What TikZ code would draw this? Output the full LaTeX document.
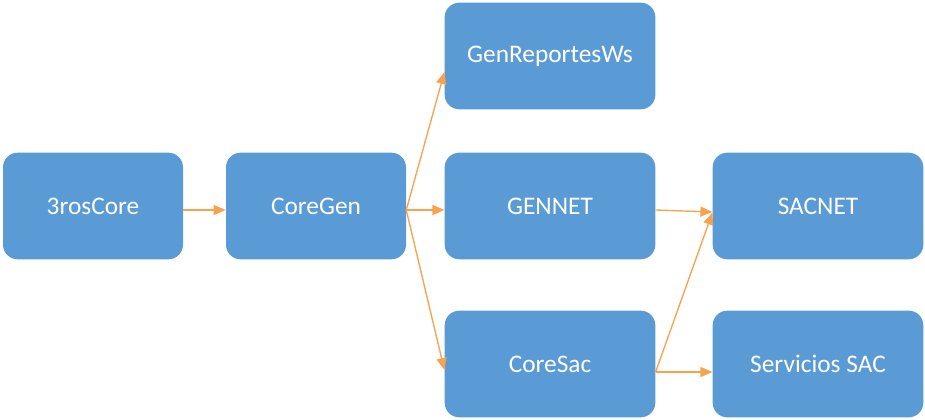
\documentclass[tikz,border=0pt]{standalone}
\usepackage{fontspec}
\setmainfont{Carlito}
\usetikzlibrary{arrows.meta}
\definecolor{boxblue}{HTML}{5B9BD5}
\definecolor{linkorange}{HTML}{F7A24F}

\begin{document}
\begin{tikzpicture}[x=0.75pt,y=0.75pt,yscale=-1,xscale=1,
    proj/.style={fill=boxblue, draw=none, rounded corners=11pt, minimum height=80pt, text=white, font=\fontsize{19}{21}\selectfont},
    small/.style={proj, minimum width=135pt},
    wide/.style={proj, minimum width=158pt},
    link/.style={draw=linkorange, line width=1pt, -{Triangle[length=9pt,width=7.5pt]}}]
        \useasboundingbox (0,0) rectangle (925,420);
        % Boxes
        \node[small] (tros) at (93,206) {3rosCore};
        \node[small] (coregen) at (316,206) {CoreGen};
        \node[wide] (genrep) at (550,56) {GenReportesWs};
        \node[wide] (gennet) at (550,206) {GENNET};
        \node[wide] (coresac) at (550,364) {CoreSac};
        \node[wide] (sacnet) at (818,206) {SACNET};
        \node[wide] (servsac) at (818,364) {Servicios SAC};
        % Links
        \draw[link] ([yshift=3pt]tros.east) -- ([yshift=3pt]coregen.west);
        \draw[link] ([yshift=3pt]coregen.east) -- ([yshift=12pt]genrep.west);
        \draw[link] ([yshift=3pt]coregen.east) -- ([yshift=3pt]gennet.west);
        \draw[link] ([yshift=3pt]coregen.east) -- ([yshift=4.5pt]coresac.west);
        \draw[link] ([yshift=3pt]gennet.east) -- ([yshift=4.5pt]sacnet.west);
        \draw[link] ([yshift=6pt]coresac.east) -- ([yshift=5pt]sacnet.west);
        \draw[link] ([yshift=6pt]coresac.east) -- ([yshift=6pt]servsac.west);
\end{tikzpicture}
\end{document}
